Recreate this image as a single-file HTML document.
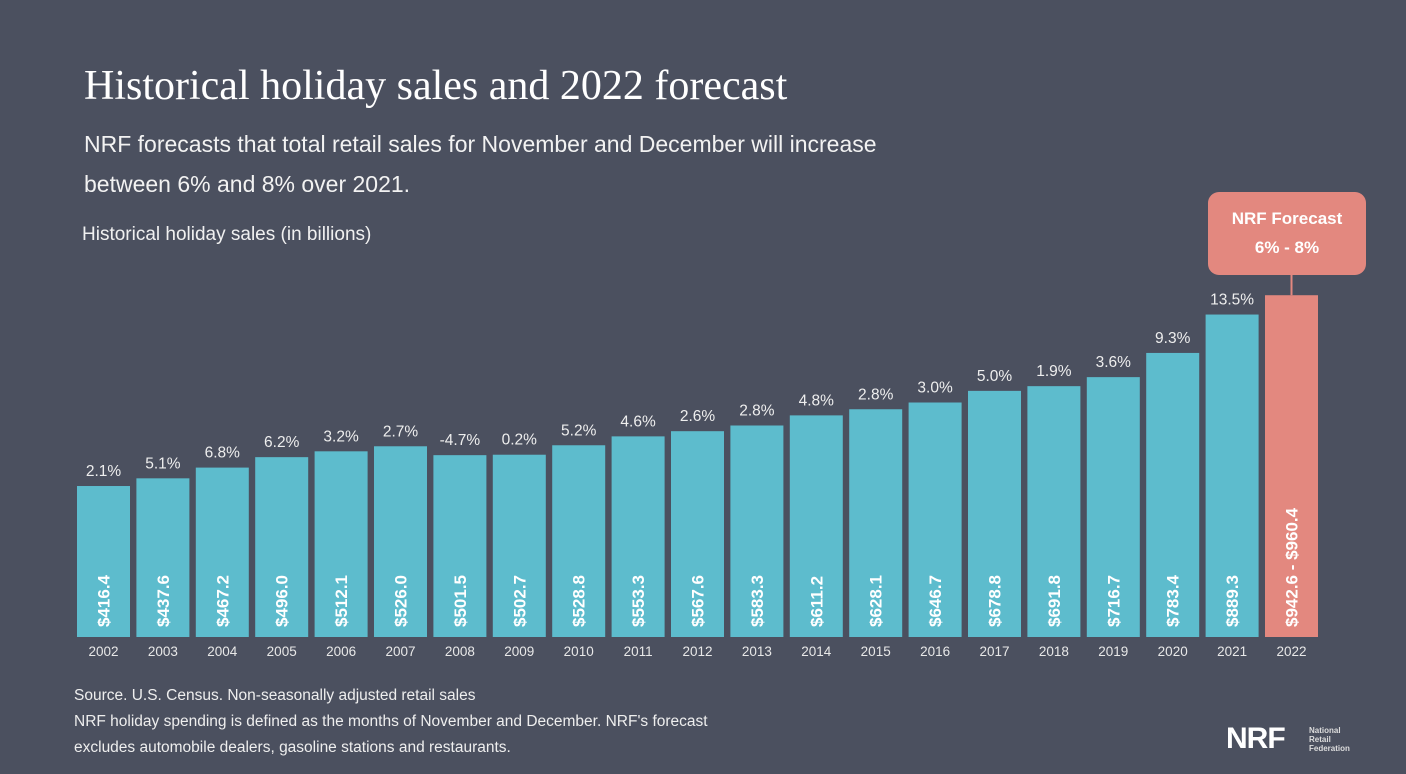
<!DOCTYPE html>
<html><head><meta charset="utf-8">
<style>
body{margin:0;width:1406px;height:774px;background:#4b505f;overflow:hidden;font-family:"Liberation Sans",sans-serif;color:#fff}
.t{position:absolute;white-space:nowrap}
</style></head>
<body>
<div class="t" style="left:84px;top:62px;font-family:'Liberation Serif',serif;font-size:42px;color:#fff">Historical holiday sales and 2022 forecast</div>
<div class="t" style="left:84px;top:124px;font-size:23px;line-height:40px;color:#f2f2f2">NRF forecasts that total retail sales for November and December will increase<br>between 6% and 8% over 2021.</div>
<div class="t" style="left:82px;top:224px;font-size:19px;color:#f0f0f0">Historical holiday sales (in billions)</div>
<div class="t" style="left:74px;top:683px;font-size:15.5px;line-height:26px;color:#eee">Source. U.S. Census. Non-seasonally adjusted retail sales<br>NRF holiday spending is defined as the months of November and December. NRF's forecast<br>excludes automobile dealers, gasoline stations and restaurants.</div>
<div class="t" style="left:1226px;top:722px;font-size:30px;font-weight:bold;letter-spacing:-1px">NRF</div>
<div class="t" style="left:1309px;top:726px;font-size:8px;line-height:9px;font-weight:bold;color:#ddd">National<br>Retail<br>Federation</div>
<svg id="chart" width="1406" height="774" style="position:absolute;left:0;top:0"></svg>
<script>
const years=["2002","2003","2004","2005","2006","2007","2008","2009","2010","2011","2012","2013","2014","2015","2016","2017","2018","2019","2020","2021","2022"];
const sales=[416.4,437.6,467.2,496.0,512.1,526.0,501.5,502.7,528.8,553.3,567.6,583.3,611.2,628.1,646.7,678.8,691.8,716.7,783.4,889.3,942.6];
const valueLabels=["$416.4","$437.6","$467.2","$496.0","$512.1","$526.0","$501.5","$502.7","$528.8","$553.3","$567.6","$583.3","$611.2","$628.1","$646.7","$678.8","$691.8","$716.7","$783.4","$889.3","$942.6 - $960.4"];
const growth=["2.1%","5.1%","6.8%","6.2%","3.2%","2.7%","-4.7%","0.2%","5.2%","4.6%","2.6%","2.8%","4.8%","2.8%","3.0%","5.0%","1.9%","3.6%","9.3%","13.5%",""];
const svg=document.getElementById('chart');const NS="http://www.w3.org/2000/svg";
const base=637,k=0.3626,x0=77,pitch=59.4,bw=53;
const x=i=>x0+i*pitch, y=v=>base-v*k;
function mk(t,a){const e=document.createElementNS(NS,t);for(const q in a)e.setAttribute(q,a[q]);svg.appendChild(e);return e;}
years.forEach((yr,i)=>{
 const fc=i===years.length-1;
 const r=mk('rect',{x:x(i),y:y(sales[i]),width:bw,height:base-y(sales[i]),fill:fc?'#e3887f':'#5dbccd'});
 
 
 const cx=x(i)+bw/2;
 const vl=mk('text',{x:0,y:0,transform:`translate(${cx+6},${base-10}) rotate(-90)`,fill:'#fff','font-size':17,'font-weight':'bold','font-family':'Liberation Sans, sans-serif'});
 vl.textContent=valueLabels[i];
 
 
 const yl=mk('text',{x:cx,y:656,'text-anchor':'middle',fill:'#e8e8e8','font-size':13.5,'font-family':'Liberation Sans, sans-serif'});
 yl.textContent=yr;
 
 
 if(growth[i]){
  const g=mk('text',{x:cx,y:y(sales[i])-10,'text-anchor':'middle',fill:'#eee','font-size':15.5,'font-family':'Liberation Sans, sans-serif'});
  g.textContent=growth[i];
  
  
 }
});
const fi=years.length-1, fx=x(fi)+bw/2;
const ln=mk('line',{x1:fx,x2:fx,y1:275,y2:y(sales[fi]),stroke:'#e3887f','stroke-width':2});


const box=mk('rect',{x:1208,y:192,width:158,height:83,rx:11,fill:'#e3887f'});


const t1=mk('text',{x:1287,y:224,'text-anchor':'middle',fill:'#fff','font-size':17,'font-weight':'bold','font-family':'Liberation Sans, sans-serif'});
t1.textContent='NRF Forecast';


const t2=mk('text',{x:1287,y:253,'text-anchor':'middle',fill:'#fff','font-size':17,'font-weight':'bold','font-family':'Liberation Sans, sans-serif'});
t2.textContent='6% - 8%';


</script>
</body></html>
